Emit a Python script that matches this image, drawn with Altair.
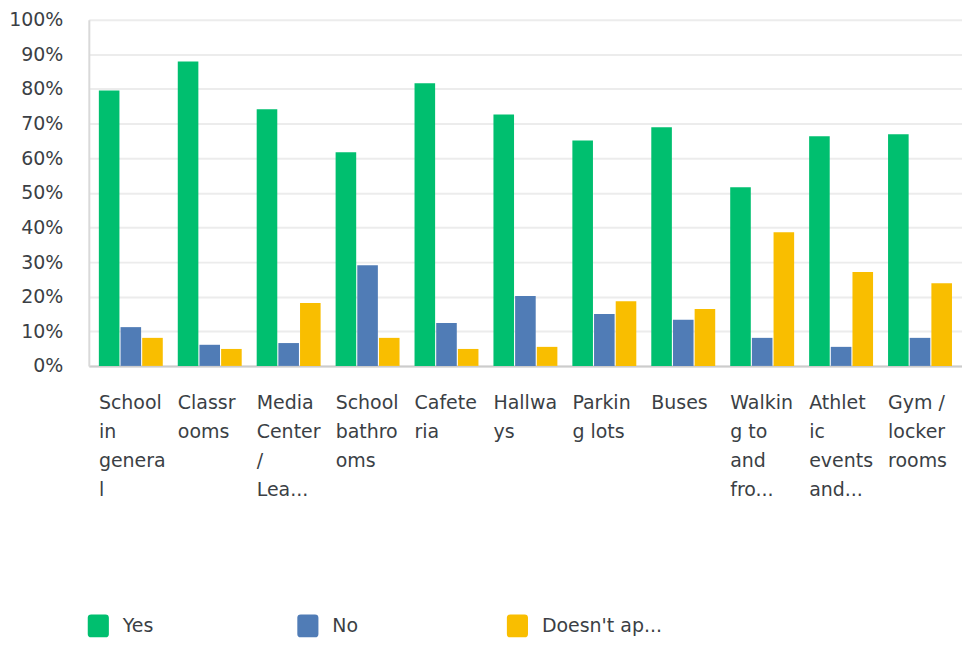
import altair as alt
import pandas as pd

categories = ["School|in|genera|l", "Classr|ooms", "Media|Center|/|Lea...", "School|bathro|oms",
              "Cafete|ria", "Hallwa|ys", "Parkin|g lots", "Buses", "Walkin|g to|and|fro...",
              "Athlet|ic|events|and...", "Gym /|locker|rooms"]
series = ["Yes", "No", "Doesn't ap..."]
yes = [79.5, 87.9, 74.1, 61.7, 81.6, 72.6, 65.1, 68.9, 51.6, 66.3, 66.9]
no = [11.2, 6.1, 6.6, 29.1, 12.4, 20.2, 15.0, 13.3, 8.1, 5.5, 8.1]
dna = [8.1, 4.9, 18.2, 8.1, 4.9, 5.5, 18.7, 16.4, 38.6, 27.1, 23.9]
colors = ["#00BF6F", "#507CB6", "#F9BE00"]

rows = []
for i, c in enumerate(categories):
    for s, vals in zip(series, [yes, no, dna]):
        rows.append({"cat": c, "series": s, "value": vals[i] / 100})
df = pd.DataFrame(rows)

FONT = "DejaVu Sans"
TXT = "#3b3f45"
rounded = "M-0.62,-1 L0.62,-1 Q0.92,-1 0.92,-0.7 L0.92,0.7 Q0.92,1 0.62,1 L-0.62,1 Q-0.92,1 -0.92,0.7 L-0.92,-0.7 Q-0.92,-1 -0.62,-1 Z"

chart = alt.Chart(df).mark_bar().encode(
    x=alt.X("cat:N", sort=categories, title=None,
            scale=alt.Scale(paddingInner=0.19, paddingOuter=0.127),
            axis=alt.Axis(labelAlign="left", labelOffset=-32, labelBaseline="top",
                          labelExpr="split(datum.label, '|')", labelLineHeight=29,
                          labelPadding=28, ticks=False, labelAngle=0, labelOverlap=False,
                          labelFont=FONT, labelFontSize=19, labelColor=TXT,
                          domainColor="#cccccc", domainWidth=2, grid=False, labelLimit=300)),
    xOffset=alt.XOffset("series:N", sort=series, scale=alt.Scale(paddingInner=0.05)),
    y=alt.Y("value:Q", title=None, scale=alt.Scale(domain=[0, 1], nice=False),
            axis=alt.Axis(format=".0%", values=[i / 10 for i in range(11)], ticks=False,
                          labelPadding=26, labelFont=FONT, labelFontSize=19, labelColor=TXT,
                          domainColor="#d9d9d9", domainWidth=2,
                          gridColor="#ececec", gridWidth=2)),
    color=alt.Color("series:N", sort=series, title=None,
                    scale=alt.Scale(domain=series, range=colors),
                    legend=alt.Legend(orient="none", legendX=-2, legendY=596, padding=0,
                                      direction="horizontal", columns=3, gridAlign="all",
                                      columnPadding=53, symbolType=rounded, symbolSize=529,
                                      symbolStrokeWidth=0, symbolOpacity=1, labelOffset=13,
                                      labelFont=FONT, labelFontSize=19, labelColor=TXT,
                                      labelLimit=300)),
).properties(
    width=875, height=347,
    padding={"left": 0, "top": 2, "right": 0, "bottom": 0},
).configure_view(stroke=None)

chart.save("out.html", embed_options={"renderer": "svg", "actions": False})
